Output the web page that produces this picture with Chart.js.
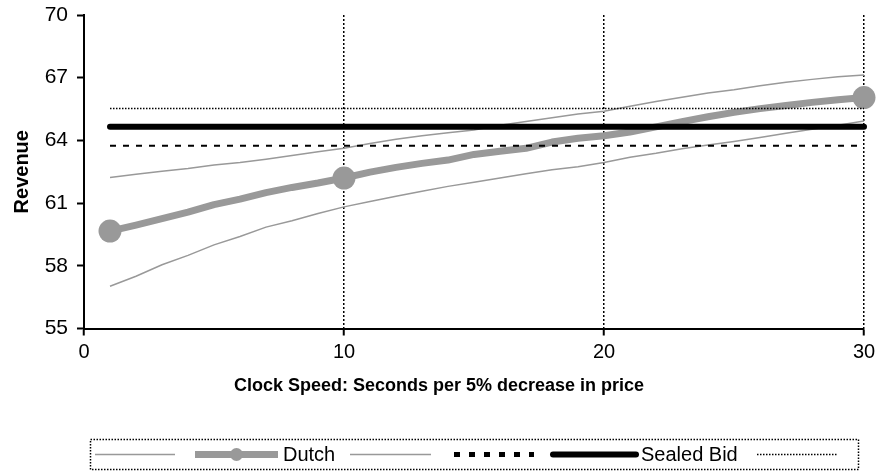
<!DOCTYPE html>
<html>
<head>
<meta charset="utf-8">
<script src="https://cdn.jsdelivr.net/npm/chart.js@4.4.1/dist/chart.umd.min.js"></script>
<style>
  body { margin: 0; background: #fff; }
  canvas { display: block; }
</style>
</head>
<body>
<canvas id="graficoRevenue" width="878" height="472"></canvas>
<script>
// Clock speed (seconds per 5% decrease) and revenue
const clockSpeed = [1, 2, 3, 4, 5, 6, 7, 8, 9, 10, 11, 12, 13, 14, 15, 16, 17, 18, 19, 20, 21, 22, 23, 24, 25, 26, 27, 28, 29, 30]
const dutchLow = [57.02, 57.5, 58.05, 58.5, 59.0, 59.4, 59.85, 60.16, 60.5, 60.82, 61.08, 61.33, 61.57, 61.8, 62.0, 62.2, 62.4, 62.6, 62.74, 62.94, 63.19, 63.38, 63.6, 63.78, 63.95, 64.14, 64.34, 64.53, 64.72, 64.93]
const dutchMean = [59.66, 59.95, 60.26, 60.57, 60.93, 61.19, 61.5, 61.75, 61.96, 62.2, 62.48, 62.71, 62.9, 63.06, 63.33, 63.48, 63.62, 63.92, 64.1, 64.22, 64.4, 64.65, 64.9, 65.13, 65.34, 65.52, 65.67, 65.82, 65.95, 66.05]
const dutchHigh = [62.23, 62.38, 62.52, 62.65, 62.82, 62.94, 63.1, 63.28, 63.46, 63.62, 63.85, 64.05, 64.22, 64.37, 64.5, 64.72, 64.9, 65.08, 65.26, 65.4, 65.63, 65.86, 66.07, 66.27, 66.42, 66.61, 66.78, 66.92, 67.04, 67.13]
const dutchMarkers = [1, 10, 30]

const sealedSpeed = [1, 30]
const sealedLow = [63.74, 63.74]
const sealedMean = [64.65, 64.65]
const sealedHigh = [65.53, 65.53]

const xTicks = [0, 10, 20, 30]
const yTicks = [55, 58, 61, 64, 67, 70]
const xTitle = 'Clock Speed: Seconds per 5% decrease in price'

const FONT = "'Liberation Sans', Arial, sans-serif"
const GRIS = '#999999'

const toPoints = (xs, ys) => xs.map((x, i) => ({ x: x, y: ys[i] }))

//Leyenda dibujada a mano (caja punteada con muestras)
const legendBox = { left: 90.5, top: 439.5, right: 858.5, bottom: 469.5, rowY: 454.5 }
const legendEntries = [
    { dataset: 0, from: 95, to: 175 },
    { dataset: 1, from: 195, to: 278, marker: 6.5, width: 7 },
    { dataset: 2, from: 350, to: 431 },
    { dataset: 3, from: 454, to: 534, width: 5, dash: [6, 9] },
    { dataset: 4, from: 553, to: 636 },
    { dataset: 5, from: 757, to: 837 }
]

const legendPlugin = {
    id: 'legendBox',
    afterDraw(chart) {
        const ctx = chart.ctx
        ctx.save()

        //Titulo del eje X, centrado en todo el lienzo
        ctx.fillStyle = '#000'
        ctx.font = 'bold 18px ' + FONT
        ctx.textAlign = 'center'
        ctx.textBaseline = 'middle'
        ctx.fillText(xTitle, chart.width / 2, 386)

        ctx.strokeStyle = '#000'
        ctx.lineWidth = 1.5
        ctx.setLineDash([1.5, 1.5])
        ctx.strokeRect(legendBox.left, legendBox.top, legendBox.right - legendBox.left, legendBox.bottom - legendBox.top)

        legendEntries.forEach(entry => {
            const ds = chart.data.datasets[entry.dataset]
            ctx.beginPath()
            ctx.strokeStyle = ds.borderColor
            ctx.lineWidth = entry.width || ds.borderWidth
            ctx.lineCap = ds.borderCapStyle || 'butt'
            ctx.setLineDash(entry.dash || ds.borderDash || [])
            ctx.moveTo(entry.from, legendBox.rowY)
            ctx.lineTo(entry.to, legendBox.rowY)
            ctx.stroke()
            if (entry.marker) {
                ctx.beginPath()
                ctx.fillStyle = ds.borderColor
                ctx.arc((entry.from + entry.to) / 2, legendBox.rowY, entry.marker, 0, Math.PI * 2)
                ctx.fill()
            }
            if (ds.label) {
                ctx.fillStyle = '#000'
                ctx.font = '20px ' + FONT
                ctx.textBaseline = 'middle'
                ctx.textAlign = 'left'
                ctx.fillText(ds.label, entry.to + 5, legendBox.rowY + 1)
            }
        })
        ctx.restore()
    }
}

//Quitar el relleno automatico que agrega Chart.js por las etiquetas
const sinPadding = axis => {
    axis.paddingTop = 0
    axis.paddingBottom = 0
    axis.paddingLeft = 0
    axis.paddingRight = 0
}

const graficoRevenue = document.getElementById('graficoRevenue')

new Chart(graficoRevenue, {
    type: 'line',
    data: {
        datasets: [{
            label: '',
            data: toPoints(clockSpeed, dutchLow),
            borderColor: GRIS,
            borderWidth: 1.5,
            pointRadius: 0,
            order: 2
        }, {
            label: 'Dutch',
            data: toPoints(clockSpeed, dutchMean),
            borderColor: GRIS,
            borderWidth: 7,
            borderJoinStyle: 'round',
            pointRadius: ctx => dutchMarkers.includes(ctx.raw && ctx.raw.x) ? 11.5 : 0,
            pointBackgroundColor: GRIS,
            pointBorderWidth: 0,
            clip: false,
            order: 2
        }, {
            label: '',
            data: toPoints(clockSpeed, dutchHigh),
            borderColor: GRIS,
            borderWidth: 1.5,
            pointRadius: 0,
            order: 2
        }, {
            label: '',
            data: toPoints(sealedSpeed, sealedLow),
            borderColor: '#000',
            borderWidth: 2,
            borderDash: [6, 7],
            pointRadius: 0,
            order: 1
        }, {
            label: 'Sealed Bid',
            data: toPoints(sealedSpeed, sealedMean),
            borderColor: '#000',
            borderWidth: 6,
            borderCapStyle: 'round',
            pointRadius: 0,
            clip: false,
            order: 1
        }, {
            label: '',
            data: toPoints(sealedSpeed, sealedHigh),
            borderColor: '#000',
            borderWidth: 1.5,
            borderDash: [1.5, 1.5],
            pointRadius: 0,
            order: 1
        }]
    },
    options: {
        responsive: false,
        animation: false,
        events: [],
        layout: { autoPadding: false, padding: { top: 15, right: 14, bottom: 75, left: 0 } },
        plugins: {
            legend: { display: false },
            tooltip: { enabled: false }
        },
        scales: {
            x: {
                type: 'linear',
                min: 0,
                max: 30,
                afterBuildTicks: axis => { axis.ticks = xTicks.map(v => ({ value: v })) },
                afterFit: axis => { axis.height = 68.5; sinPadding(axis) },
                border: { color: '#000', width: 2, dash: [2, 2] },
                grid: {
                    color: ctx => (ctx.tick && ctx.tick.value === 0) ? 'rgba(0,0,0,0)' : '#000',
                    lineWidth: 1.5,
                    tickColor: '#000',
                    tickWidth: 2,
                    tickLength: 7
                },
                ticks: { color: '#000', padding: 5, maxRotation: 0, font: { family: FONT, size: 20 } }
            },
            y: {
                min: 55,
                max: 70,
                afterBuildTicks: axis => { axis.ticks = yTicks.map(v => ({ value: v })) },
                afterFit: axis => { axis.width = 84; sinPadding(axis) },
                border: { color: '#000', width: 2 },
                grid: {
                    drawOnChartArea: false,
                    tickColor: '#000',
                    tickWidth: 2,
                    tickLength: 7
                },
                ticks: { color: '#000', padding: 9, font: { family: FONT, size: 21 } },
                title: {
                    display: true,
                    text: 'Revenue',
                    color: '#000',
                    padding: { top: 10, bottom: 0 },
                    font: { family: FONT, size: 20, weight: 'bold' }
                }
            }
        }
    },
    plugins: [legendPlugin]
})
</script>
</body>
</html>
